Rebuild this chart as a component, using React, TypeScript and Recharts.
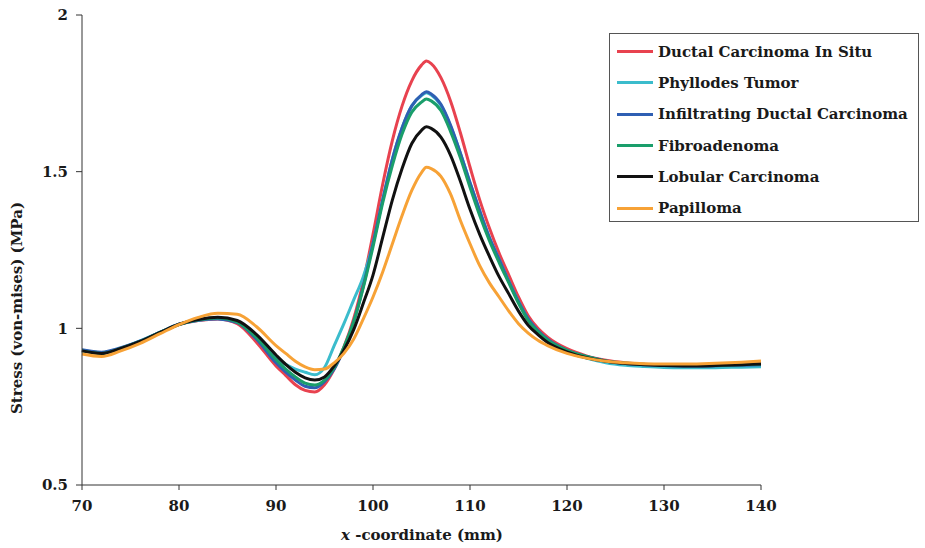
import { Line, LineChart, XAxis, YAxis } from "recharts";

const FONT = "'DejaVu Serif', 'Liberation Serif', serif";
const INK = "#1a1a1a";

// x-coordinate (mm)
const xs = [
  70, 72, 74, 76, 78, 80, 82, 84, 86, 88, 90, 91, 92, 93, 94, 95, 96, 97, 98, 99,
  100, 101, 102, 103, 104, 105, 105.5, 106, 107, 108, 109, 110, 111, 112, 113, 114, 115,
  116, 117, 118, 120, 122, 124, 126, 128, 130, 132, 134, 136, 138, 140,
];

const ductalInSitu = [
  0.93, 0.92, 0.935, 0.958, 0.986, 1.012, 1.025, 1.03, 1.015, 0.955, 0.88, 0.85, 0.82, 0.802, 0.797, 0.82, 0.87, 0.94, 1.03, 1.15,
  1.3, 1.46, 1.6, 1.71, 1.79, 1.84, 1.853, 1.845, 1.8, 1.725, 1.625, 1.515, 1.41, 1.32, 1.24, 1.17, 1.1,
  1.04, 1.0, 0.972, 0.935, 0.912, 0.898, 0.89, 0.885, 0.882, 0.88, 0.88, 0.882, 0.885, 0.888,
];

const phyllodes = [
  0.93, 0.922, 0.937, 0.96, 0.987, 1.013, 1.026, 1.032, 1.022, 0.975, 0.91, 0.885, 0.87, 0.86, 0.852, 0.875, 0.945, 1.015, 1.09, 1.165,
  1.27, 1.41, 1.54, 1.64, 1.71, 1.743, 1.752, 1.745, 1.712, 1.645, 1.56, 1.465, 1.375, 1.29, 1.22, 1.15, 1.085,
  1.028, 0.99, 0.962, 0.925, 0.905, 0.89, 0.882, 0.878, 0.875, 0.874, 0.874, 0.875, 0.876, 0.877,
];

const infiltratingDuctal = [
  0.932, 0.924, 0.938, 0.96, 0.987, 1.013, 1.026, 1.03, 1.018, 0.965, 0.89, 0.86, 0.835, 0.815, 0.81, 0.83, 0.87, 0.935, 1.02, 1.135,
  1.27, 1.41, 1.54, 1.64, 1.71, 1.745, 1.755, 1.748, 1.715, 1.648, 1.56, 1.465, 1.375, 1.29, 1.22, 1.15, 1.085,
  1.03, 0.993, 0.965, 0.93, 0.91, 0.896, 0.888, 0.884, 0.881, 0.88, 0.88, 0.881, 0.882, 0.884,
];

const fibroadenoma = [
  0.928, 0.92, 0.936, 0.958, 0.986, 1.012, 1.027, 1.033, 1.02, 0.97, 0.9, 0.87, 0.845, 0.825, 0.819, 0.835, 0.875, 0.94, 1.02, 1.13,
  1.26, 1.4, 1.52, 1.62, 1.69, 1.722, 1.732, 1.726, 1.695, 1.628, 1.545, 1.45, 1.36, 1.28, 1.21, 1.145, 1.08,
  1.025, 0.99, 0.963, 0.93, 0.91, 0.896, 0.889, 0.885, 0.882, 0.881, 0.881, 0.882, 0.884, 0.886,
];

const lobular = [
  0.928, 0.92, 0.936, 0.958, 0.986, 1.013, 1.028, 1.035, 1.025, 0.98, 0.915, 0.885, 0.86, 0.842, 0.835, 0.845, 0.88, 0.93, 0.995, 1.08,
  1.17, 1.29, 1.41, 1.51, 1.59, 1.632, 1.643, 1.638, 1.61, 1.552, 1.47, 1.38, 1.3, 1.23, 1.165, 1.11, 1.055,
  1.01, 0.98, 0.955, 0.925, 0.906, 0.895, 0.888, 0.884, 0.881, 0.88, 0.88, 0.882, 0.884, 0.886,
];

const papilloma = [
  0.918, 0.91, 0.928, 0.952, 0.982, 1.012, 1.035, 1.048, 1.045, 1.005, 0.945, 0.92, 0.895, 0.877, 0.868, 0.87, 0.89, 0.92, 0.965, 1.03,
  1.1, 1.18, 1.27, 1.36, 1.44, 1.497, 1.514, 1.51, 1.485, 1.428, 1.345, 1.27, 1.2, 1.145, 1.1, 1.055, 1.015,
  0.985, 0.962, 0.945, 0.92, 0.905, 0.895, 0.89, 0.887, 0.886, 0.886, 0.887, 0.889, 0.892, 0.896,
];

const xTicks = [70, 80, 90, 100, 110, 120, 130, 140];
const yTicks = [0.5, 1, 1.5, 2];

const SERIES = [
  { key: "dcis", name: "Ductal Carcinoma In Situ", color: "#e8424f", values: ductalInSitu },
  { key: "phyllodes", name: "Phyllodes Tumor", color: "#3bbccc", values: phyllodes },
  { key: "idc", name: "Infiltrating Ductal Carcinoma", color: "#2f5fb3", values: infiltratingDuctal },
  { key: "fibro", name: "Fibroadenoma", color: "#1a9e6b", values: fibroadenoma },
  { key: "lobular", name: "Lobular Carcinoma", color: "#111111", values: lobular },
  { key: "papilloma", name: "Papilloma", color: "#f7a236", values: papilloma },
];

const data = xs.map((x, i) => {
  const row: Record<string, number> = { x };
  SERIES.forEach((s) => (row[s.key] = s.values[i]));
  return row;
});

const tick = { fontSize: 15, fontWeight: 700, fill: INK, fontFamily: FONT } as const;

// legend box sits over the plot, top-right, like the original figure
function LegendBox() {
  return (
    <div
      style={{
        position: "absolute",
        left: 609,
        top: 33,
        width: 310,
        height: 189,
        border: "1.5px solid #555",
        padding: "2px 0 0 7px",
        boxSizing: "border-box",
        background: "#fff",
      }}
    >
      {SERIES.map((s) => (
        <div
          key={s.key}
          style={{ display: "flex", alignItems: "center", height: 31.3 }}
        >
          <span
            style={{
              flexShrink: 0,
              width: 36,
              height: 3,
              background: s.color,
              marginRight: 5,
            }}
          />
          <span
            style={{
              fontFamily: FONT,
              fontWeight: 700,
              fontSize: 15,
              color: INK,
              whiteSpace: "nowrap",
            }}
          >
            {s.name}
          </span>
        </div>
      ))}
    </div>
  );
}

function YTitle() {
  return (
    <text
      x={17}
      y={308}
      transform="rotate(-90 17 308)"
      textAnchor="middle"
      dominantBaseline="central"
      fontFamily={FONT}
      fontWeight={700}
      fontSize={15}
      fill={INK}
    >
      Stress (von-mises) (MPa)
    </text>
  );
}

function XTitle() {
  return (
    <text
      x={422}
      y={540}
      textAnchor="middle"
      fontFamily={FONT}
      fontWeight={700}
      fontSize={15}
      fill={INK}
    >
      <tspan fontStyle="italic">x</tspan> -coordinate (mm)
    </text>
  );
}

export default function App() {
  return (
    <div
      style={{
        position: "absolute",
        left: 0,
        top: 0,
        width: 925,
        height: 548,
        background: "#fff",
      }}
    >
      <LineChart
        width={925}
        height={548}
        data={data}
        margin={{ top: 15, right: 164, bottom: 23, left: 0 }}
      >
        <XAxis
          dataKey="x"
          type="number"
          domain={[70, 140]}
          ticks={xTicks}
          height={40}
          tick={tick}
          tickSize={5}
          tickMargin={10}
          stroke="#333"
          label={<XTitle />}
        />
        <YAxis
          type="number"
          domain={[0.5, 2]}
          ticks={yTicks}
          width={82}
          tick={tick}
          tickSize={6}
          tickMargin={8}
          stroke="#333"
          tickFormatter={(v: number) => String(v)}
          label={<YTitle />}
        />
        {SERIES.map((s) => (
          <Line
            key={s.key}
            dataKey={s.key}
            name={s.name}
            type="monotone"
            stroke={s.color}
            strokeWidth={3}
            dot={false}
            isAnimationActive={false}
          />
        ))}
      </LineChart>
      <LegendBox />
    </div>
  );
}
